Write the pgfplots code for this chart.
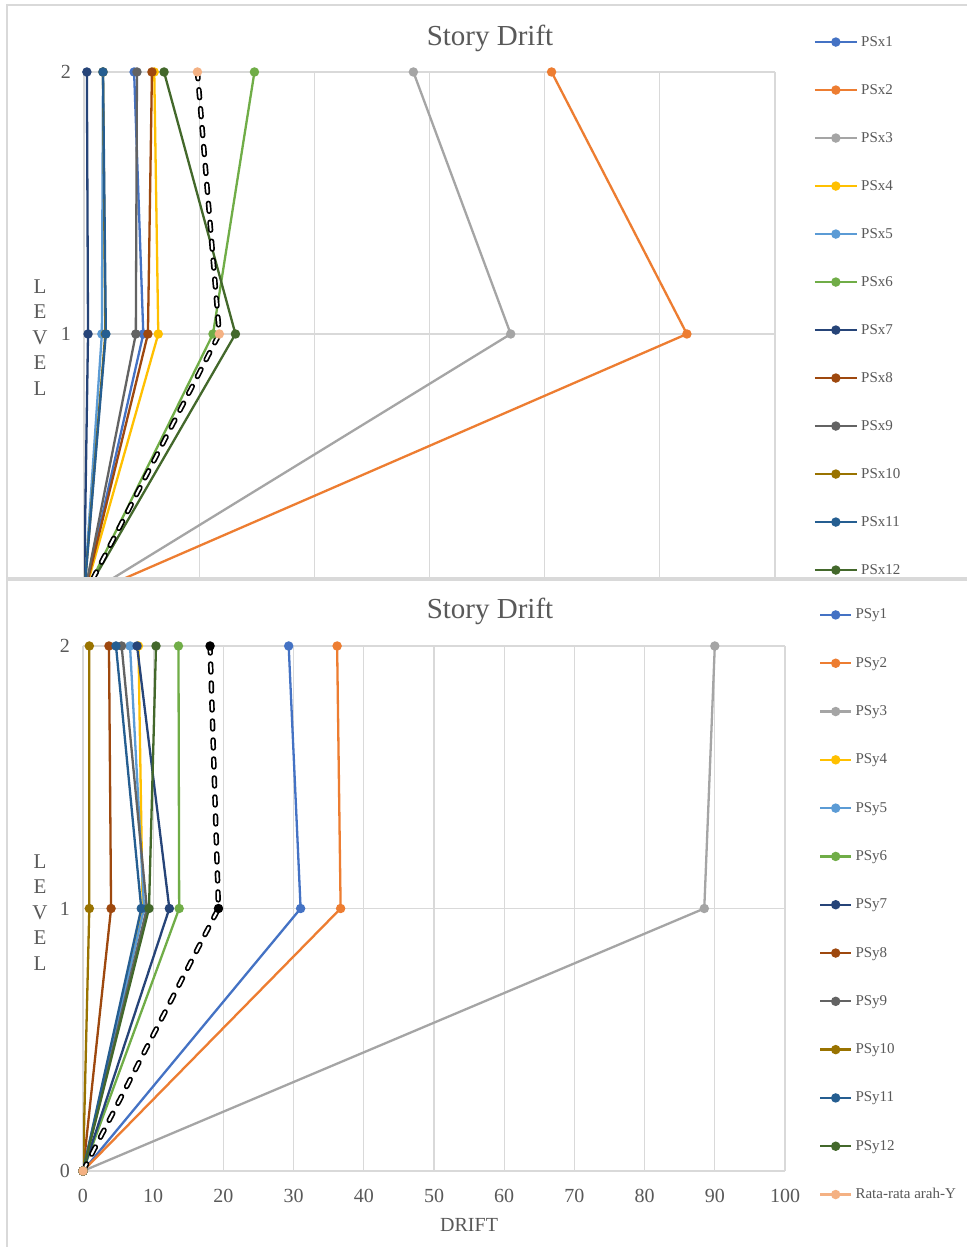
\documentclass[border=0pt]{standalone}
\usepackage{pgfplots}
\pgfplotsset{compat=1.18}
\usepackage{fontspec}
\setmainfont{Liberation Serif}
\definecolor{cA}{HTML}{4472C4}
\definecolor{cB}{HTML}{ED7D31}
\definecolor{cC}{HTML}{A5A5A5}
\definecolor{cD}{HTML}{FFC000}
\definecolor{cE}{HTML}{5B9BD5}
\definecolor{cF}{HTML}{70AD47}
\definecolor{cG}{HTML}{264478}
\definecolor{cH}{HTML}{9E480E}
\definecolor{cI}{HTML}{636363}
\definecolor{cJ}{HTML}{997300}
\definecolor{cK}{HTML}{255E91}
\definecolor{cL}{HTML}{43682B}
\definecolor{cM}{HTML}{F4B183}
\definecolor{grd}{HTML}{D9D9D9}
\definecolor{txt}{HTML}{595959}
\pgfplotsset{
  excel/.style={
    scale only axis,
    axis lines=left,
    axis line style={draw=grd, line width=0.6pt, -},
    grid=major,
    major grid style={draw=grd, line width=0.6pt},
    major tick length=0pt,
    tick label style={font=\fontsize{10}{12}\selectfont, text=txt},
    /pgf/number format/assume math mode=true,
    ymin=0, ymax=2, ytick={0,1,2},
    yticklabel style={xshift=-3pt},
    xticklabel style={yshift=-5.5pt},
    every axis plot/.append style={line width=1.15pt, mark=*, mark size=1.75pt, mark options={solid}},
    legend cell align=left,
    legend style={draw=none, fill=none, inner sep=0pt, outer sep=0pt,
      font=\fontsize{7.5}{9}\selectfont, text=txt, anchor=north west,
      nodes={inner sep=0pt, text height=5.5pt, text depth=1.5pt},
      /tikz/every odd column/.append style={column sep=1.6pt}},
    title style={font=\fontsize{14.5}{17}\selectfont, text=txt, anchor=center, yshift=0pt},
    ylabel style={rotate=-90, align=center, font=\fontsize{10.5}{12.75}\selectfont, text=txt, anchor=center},
    xlabel style={font=\fontsize{10}{12}\selectfont, text=txt, anchor=center},
  },
  avgblack/.style={black, line width=2.7pt, line cap=round, dash pattern=on 4pt off 5.5pt, mark=none},
  avgwhite/.style={white, line width=1pt, line cap=round, dash pattern=on 4pt off 5.5pt, mark=none},
}
\begin{document}
\begin{tikzpicture}
\path[use as bounding box, fill=white] (0,0) rectangle (483pt,623.5pt);
\begin{scope}
\clip (0,334.5pt) rectangle (483pt,623.5pt);
\begin{axis}[excel,
  at={(42pt,325.5pt)}, anchor=south west,
  width=345.5pt, height=262pt,
  xmin=0, xmax=120, xtick={0,20,...,120}, xticklabels={},
  title={Story Drift}, title style={at={(axis description cs:0.5876,1.042)}},
  ylabel={L\\E\\V\\E\\L}, ylabel style={at={(axis description cs:-0.0637,0.494)}},
  legend style={at={(axis description cs:1.056,1.0705)}, row sep=17pt},
  legend image code/.code={\draw[mark repeat=2,mark phase=2] plot coordinates {(0pt,0pt)(10.5pt,0pt)(21pt,0pt)};},
]
\addplot[color=cA] coordinates {(0,0) (10.3,1) (8.7,2)}; \addlegendentry{PSx1}
\addplot[color=cB] coordinates {(0,0) (104.7,1) (81.2,2)}; \addlegendentry{PSx2}
\addplot[color=cC] coordinates {(0,0) (74.1,1) (57.2,2)}; \addlegendentry{PSx3}
\addplot[color=cD] coordinates {(0,0) (12.9,1) (12.2,2)}; \addlegendentry{PSx4}
\addplot[color=cE] coordinates {(0,0) (3.1,1) (3.3,2)}; \addlegendentry{PSx5}
\addplot[color=cF] coordinates {(0,0) (22.4,1) (29.6,2)}; \addlegendentry{PSx6}
\addplot[color=cG] coordinates {(0,0) (0.7,1) (0.5,2)}; \addlegendentry{PSx7}
\addplot[color=cH] coordinates {(0,0) (11.1,1) (11.8,2)}; \addlegendentry{PSx8}
\addplot[color=cI] coordinates {(0,0) (9.0,1) (9.2,2)}; \addlegendentry{PSx9}
\addplot[color=cJ] coordinates {(0,0) (3.7,1) (3.3,2)}; \addlegendentry{PSx10}
\addplot[color=cK] coordinates {(0,0) (3.8,1) (3.3,2)}; \addlegendentry{PSx11}
\addplot[color=cL] coordinates {(0,0) (26.3,1) (13.9,2)}; \addlegendentry{PSx12}
\addplot[avgblack, forget plot] coordinates {(0,0) (23.5,1) (19.7,2)};
\addplot[avgwhite, forget plot] coordinates {(0,0) (23.5,1) (19.7,2)};
\addplot[cM, only marks, forget plot] coordinates {(0,0) (23.5,1) (19.7,2)};
\end{axis}
\end{scope}
\draw[grd, line width=0.6pt] (3.5pt,334.5pt) rectangle (490pt,621pt);
\draw[grd, line width=0.6pt] (3.5pt,-5pt) rectangle (490pt,333.5pt);
\begin{axis}[excel,
  at={(41.5pt,38pt)}, anchor=south west,
  width=351pt, height=262.5pt,
  xmin=0, xmax=100, xtick={0,10,...,100},
  title={Story Drift}, title style={at={(axis description cs:0.5798,1.0438)}},
  ylabel={L\\E\\V\\E\\L}, ylabel style={at={(axis description cs:-0.0613,0.493)}},
  xlabel={DRIFT}, xlabel style={at={(axis description cs:0.55,-0.102)}},
  legend style={at={(axis description cs:1.0485,1.0725)}, row sep=17.15pt},
  legend image code/.code={\draw[mark repeat=2,mark phase=2] plot coordinates {(0pt,0pt)(7.75pt,0pt)(15.5pt,0pt)};},
]
\addplot[color=cA] coordinates {(0,0) (31.0,1) (29.3,2)}; \addlegendentry{PSy1}
\addplot[color=cB] coordinates {(0,0) (36.7,1) (36.2,2)}; \addlegendentry{PSy2}
\addplot[color=cC] coordinates {(0,0) (88.5,1) (90.0,2)}; \addlegendentry{PSy3}
\addplot[color=cD] coordinates {(0,0) (8.5,1) (7.9,2)}; \addlegendentry{PSy4}
\addplot[color=cE] coordinates {(0,0) (8.7,1) (6.7,2)}; \addlegendentry{PSy5}
\addplot[color=cF] coordinates {(0,0) (13.7,1) (13.6,2)}; \addlegendentry{PSy6}
\addplot[color=cG] coordinates {(0,0) (12.3,1) (7.7,2)}; \addlegendentry{PSy7}
\addplot[color=cH] coordinates {(0,0) (4.0,1) (3.7,2)}; \addlegendentry{PSy8}
\addplot[color=cI] coordinates {(0,0) (9.1,1) (5.5,2)}; \addlegendentry{PSy9}
\addplot[color=cJ] coordinates {(0,0) (0.9,1) (0.9,2)}; \addlegendentry{PSy10}
\addplot[color=cK] coordinates {(0,0) (8.3,1) (4.7,2)}; \addlegendentry{PSy11}
\addplot[color=cL] coordinates {(0,0) (9.4,1) (10.4,2)}; \addlegendentry{PSy12}
\addlegendimage{color=cM, line width=1.15pt, mark=*, mark size=1.75pt}
\addlegendentry{Rata-rata arah-Y}
\addplot[avgblack, forget plot] coordinates {(0,0) (19.3,1) (18.1,2)};
\addplot[avgwhite, forget plot] coordinates {(0,0) (19.3,1) (18.1,2)};
\addplot[black, only marks, forget plot] coordinates {(19.3,1) (18.1,2)};
\addplot[cM, only marks, forget plot] coordinates {(0,0)};
\end{axis}
\end{tikzpicture}
\end{document}
